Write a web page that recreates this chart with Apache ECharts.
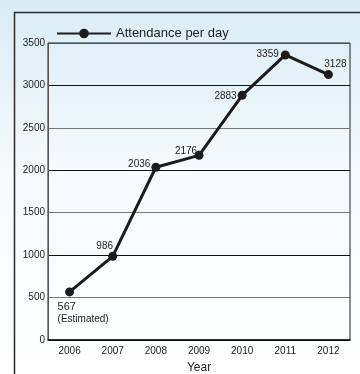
<!DOCTYPE html>
<html>
<head>
<meta charset="utf-8">
<script src="https://cdn.jsdelivr.net/npm/echarts@6/dist/echarts.min.js"></script>
<style>
  html, body { margin: 0; padding: 0; }
  #main { width: 360px; height: 374px; }
</style>
</head>
<body>
<div id="main"></div>
<script>
// data
const years = ["2006", "2007", "2008", "2009", "2010", "2011", "2012"];
const attendance = [567, 986, 2036, 2176, 2883, 3359, 3128];
const seriesName = "Attendance per day";

// label placement per point (position, offset)
const labelPlaces = [
  { position: "bottom", offset: [-12, 0], align: "left" },
  { position: "top", offset: [-8, 4] },
  { position: "left", offset: [4, -3] },
  { position: "top", offset: [-13, 10] },
  { position: "left", offset: [4, 1] },
  { position: "left", offset: [3, -1] },
  { position: "top", offset: [7, 4] },
];

const narrow = "'Liberation Sans Narrow', 'Arial Narrow', 'Liberation Sans', Arial, sans-serif";
const regular = "'Liberation Sans', Arial, sans-serif";

let chart = echarts.init(document.getElementById("main"));
let option = {
  animation: false,
  backgroundColor: new echarts.graphic.LinearGradient(0, 0, 0, 1, [
    { offset: 0, color: "#d9ecf6" },
    { offset: 0.45, color: "#f5fafd" },
    { offset: 1, color: "#ffffff" },
  ]),
  graphic: [
    {
      type: "line",
      shape: { x1: 14.5, y1: 12, x2: 14.5, y2: 374 },
      style: { stroke: "#2a2a2a", lineWidth: 1.5 },
    },
    {
      type: "line",
      shape: { x1: 14, y1: 12.5, x2: 360, y2: 12.5 },
      style: { stroke: "#2a2a2a", lineWidth: 1.5 },
    },
  ],
  legend: {
    data: [seriesName],
    left: 51,
    top: 22,
    itemWidth: 54,
    itemHeight: 12,
    itemGap: 4,
    textStyle: { fontSize: 13, color: "#222", fontFamily: regular },
  },
  grid: {
    left: 48,
    right: 10,
    top: 43,
    bottom: 34,
    containLabel: false,
    outerBoundsMode: "none",
    show: true,
    borderColor: "#222",
    borderWidth: 1,
  },
  xAxis: {
    type: "category",
    data: years,
    boundaryGap: true,
    name: "Year",
    nameLocation: "middle",
    nameGap: 22,
    nameTextStyle: { fontSize: 12, color: "#222", fontFamily: regular },
    axisLine: { lineStyle: { color: "#111", width: 1.5 } },
    axisTick: { inside: true, length: 5, lineStyle: { color: "#111", width: 1.5 } },
    axisLabel: { fontSize: 10, color: "#222", margin: 6, fontFamily: narrow },
  },
  yAxis: {
    type: "value",
    min: 0,
    max: 3500,
    interval: 500,
    axisLine: { show: true, lineStyle: { color: "#555", width: 1 } },
    axisTick: { show: false },
    axisLabel: { fontSize: 10, color: "#222", margin: 3, fontFamily: narrow, formatter: (v) => String(v) },
    splitLine: { lineStyle: { color: ["#111", "#777", "#111", "#777", "#111", "#777", "#111", "#555"], width: 1 } },
  },
  series: [
    {
      type: "line",
      name: seriesName,
      data: attendance.map((v, i) => ({
        value: v,
        label: Object.assign({}, labelPlaces[i]),
      })),
      symbol: "circle",
      symbolSize: 9,
      itemStyle: { color: "#1c1c1c" },
      lineStyle: { color: "#1c1c1c", width: 3 },
      label: {
        show: true,
        fontSize: 10,
        color: "#222",
        fontFamily: narrow,
        formatter: (p) => (p.dataIndex === 0 ? "{a|" + p.value + "}\n{b|(Estimated)}" : String(p.value)),
        rich: {
          a: { fontSize: 11, fontFamily: narrow, color: "#222", lineHeight: 12 },
          b: { fontSize: 10, fontFamily: regular, color: "#222", lineHeight: 12 },
        },
      },
      z: 5,
    },
  ],
};
chart.setOption(option);
</script>
</body>
</html>
